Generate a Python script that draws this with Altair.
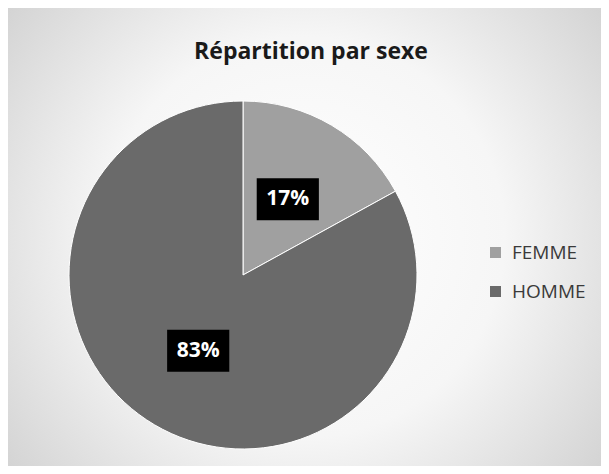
import altair as alt
import pandas as pd

categories = ["FEMME", "HOMME"]
values = [17, 83]
labels = ["17%", "83%"]
order = [0, 1]
colors = ["#a0a0a0", "#6a6a6a"]
title_text = "Répartition par sexe"

df = pd.DataFrame({"sexe": categories, "pct": values, "label": labels, "ord": order})

W, H = 470, 382
TOP = 76
PAD = {"left": 0, "top": TOP, "right": 593 - W, "bottom": 458 - TOP - H}
R = 174
LR = 88  # label radius

bg = alt.Chart(pd.DataFrame({"a": [0]})).mark_rect(
    fill=alt.RadialGradient(
        gradient="radial",
        stops=[alt.GradientStop(color="#ffffff", offset=0.0),
               alt.GradientStop(color="#f6f6f6", offset=0.45),
               alt.GradientStop(color="#c6c6c6", offset=1.0)],
        x1=0.5, y1=0.5, r1=0, x2=0.5, y2=0.5, r2=0.75,
    )
).encode(x=alt.value(0), x2=alt.value(593), y=alt.value(-TOP), y2=alt.value(458 - TOP))

title = alt.Chart(pd.DataFrame({"t": [title_text]})).mark_text(
    font="Open Sans", fontSize=23, fontWeight="bold", color="#1a1a1a",
    align="center", baseline="alphabetic",
).encode(text="t:N", x=alt.value(303), y=alt.value(51 - TOP))

pie = alt.Chart(df).mark_arc(outerRadius=R, stroke="white", strokeWidth=1).encode(
    theta=alt.Theta("pct:Q", stack=True),
    order=alt.Order("ord:Q"),
    color=alt.Color(
        "sexe:N",
        scale=alt.Scale(domain=categories, range=colors),
        legend=alt.Legend(
            title=None, orient="none", legendX=478, legendY=159,
            symbolType="square", symbolSize=121, symbolStrokeWidth=0,
            labelFontSize=19, labelColor="#3a3a3a", labelFont="Open Sans",
            rowPadding=19, labelOffset=7,
        ),
    ),
)

lab = alt.Chart(df).transform_window(
    cum="sum(pct)", sort=[alt.SortField("ord")], frame=[None, 0]
).transform_joinaggregate(
    total="sum(pct)"
).transform_calculate(
    ang="2 * PI * (datum.cum - datum.pct / 2) / datum.total",
).transform_calculate(
    lx=f"{W / 2} + {LR} * sin(datum.ang)",
    ly=f"{H / 2} - {LR} * cos(datum.ang)",
).encode(
    x=alt.X("lx:Q", scale=None),
    y=alt.Y("ly:Q", scale=None),
)

box = lab.mark_point(
    shape="M-1.48,-1L1.48,-1L1.48,1L-1.48,1Z", size=1764, filled=True,
    color="black", opacity=1, strokeWidth=0,
)
txt = lab.mark_text(
    color="white", font="Open Sans", fontWeight="bold", fontSize=21, baseline="middle",
).encode(text="label:N")

chart = alt.layer(bg, pie, box, txt, title).properties(
    width=W, height=H, padding=PAD, autosize="none",
    background="#cfcfcf",
).configure_view(stroke=None)

chart.save("out.html", embed_options={"renderer": "svg", "actions": False})
